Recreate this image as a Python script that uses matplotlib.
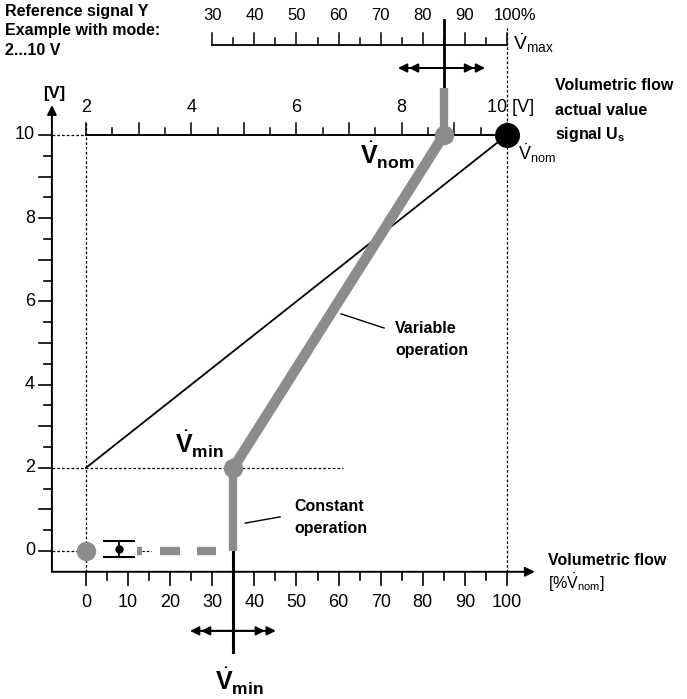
import numpy as np
import matplotlib
matplotlib.use('Agg')
import matplotlib.pyplot as plt

plt.rcParams['font.family'] = ['Liberation Sans', 'DejaVu Sans']
plt.rcParams['mathtext.fontset'] = 'custom'
plt.rcParams['mathtext.rm'] = 'Liberation Sans'
plt.rcParams['mathtext.bf'] = 'Liberation Sans:bold'
plt.rcParams['mathtext.it'] = 'Liberation Sans:italic'

# ---------------- data ----------------
flow_tick_values = [0, 5, 10, 15, 20, 25, 30, 35, 40, 45, 50, 55, 60, 65, 70, 75, 80, 85, 90, 95, 100]
flow_tick_labels = ['0', '10', '20', '30', '40', '50', '60', '70', '80', '90', '100']
volt_tick_values = [0, 0.5, 1, 1.5, 2, 2.5, 3, 3.5, 4, 4.5, 5, 5.5, 6, 6.5, 7, 7.5, 8, 8.5, 9, 9.5, 10]
volt_tick_labels = ['0', '2', '4', '6', '8', '10']
ref_volt_values = [2, 2.5, 3, 3.5, 4, 4.5, 5, 5.5, 6, 6.5, 7, 7.5, 8, 8.5, 9, 9.5, 10]
ref_volt_labels = ['2', '4', '6', '8']
vmax_pct_values = [30, 35, 40, 45, 50, 55, 60, 65, 70, 75, 80, 85, 90, 95, 100]
vmax_pct_labels = ['30', '40', '50', '60', '70', '80', '90']

signal_min, signal_max = 2, 10          # V
vmin_flow, vnom_flow = 35, 85           # % of V_nom
variable_flow = [35, 85]
variable_signal = [2, 10]
actual_flow = [0, 100]
actual_signal = [2, 10]
constant_flow = [35, 35]
constant_signal = [2, 0]
const_dash_start = [12.1, 17.6, 26.4]
const_dash_end = [13.3, 22.3, 30.9]
hyst_flow, hyst_signal, hyst_err = 7.8, 0.05, 0.2

GRAY = '#8c8c8c'
DOT = (0, (2.2, 1.6))

# ---------------- figure ----------------
fig = plt.figure(figsize=(6.87, 6.99), dpi=100)
ax = fig.add_axes([0, 0, 1, 1])
ax.set_xlim(-20.43, 142.76)
ax.set_ylim(-3.558, 13.245)
ax.axis('off')

PX = 1 / 4.21    # % per pixel
PY = 1 / 41.6    # V per pixel
x_axis = -8.1
y_axis = -0.5

# main axes with arrows
ax.annotate('', xy=(x_axis, 10.72), xytext=(x_axis, y_axis),
            arrowprops=dict(arrowstyle='-|>', color='black', lw=1.4,
                            mutation_scale=14, shrinkA=0, shrinkB=0))
ax.annotate('', xy=(106.6, y_axis), xytext=(x_axis, y_axis),
            arrowprops=dict(arrowstyle='-|>', color='black', lw=1.4,
                            mutation_scale=14, shrinkA=0, shrinkB=0))

# y ticks
for v in volt_tick_values:
    L = (13 if float(v).is_integer() else 8) * PX
    ax.plot([x_axis - L, x_axis], [v, v], color='black', lw=1.2)
for lab in volt_tick_labels:
    ax.text(x_axis - 4.0, float(lab), lab, ha='right', va='center', fontsize=13)
ax.text(x_axis + 0.6, 11.0, '[V]', ha='center', va='center', fontsize=12, fontweight='bold')

# x ticks
for p in flow_tick_values:
    L = (13 if p % 10 == 0 else 8) * PY
    ax.plot([p, p], [y_axis, y_axis - L], color='black', lw=1.2)
for lab in flow_tick_labels:
    ax.text(float(lab), -1.23, lab, ha='center', va='center', fontsize=13)

# reference signal scale (top, at 10 V)
ax.plot([actual_flow[0], actual_flow[1]], [signal_max, signal_max], color='black', lw=1.4, zorder=2)
ax.plot([x_axis, 0], [signal_max, signal_max], color='black', lw=0.9, ls=DOT)
for v in ref_volt_values:
    p = (v - signal_min) / (signal_max - signal_min) * 100
    L = (12 if float(v).is_integer() else 7) * PY
    ax.plot([p, p], [signal_max, signal_max + L], color='black', lw=1.1)
for lab in ref_volt_labels:
    p = (float(lab) - signal_min) / (signal_max - signal_min) * 100
    ax.text(p, 10.65, lab, ha='center', va='center', fontsize=13)
ax.text(95.2, 10.65, '10 [V]', ha='left', va='center', fontsize=13)

# Vmax percent scale (top)
y_top = 12.16
ax.plot([vmax_pct_values[0], vmax_pct_values[-1]], [y_top, y_top], color='black', lw=1.3)
for p in vmax_pct_values:
    L = (12 if p % 10 == 0 else 7) * PY
    ax.plot([p, p], [y_top, y_top + L], color='black', lw=1.1)
for lab in vmax_pct_labels:
    ax.text(float(lab), 12.88, lab, ha='center', va='center', fontsize=12)
ax.text(96.8, 12.88, '100%', ha='left', va='center', fontsize=12)

# guide lines
ax.plot([0, 0], [y_axis, 10.3], color='black', lw=0.9, ls=DOT)
ax.plot([100, 100], [y_axis, 12.6], color='black', lw=0.9, ls=DOT)
ax.plot([x_axis, 61], [signal_min, signal_min], color='black', lw=0.9, ls=DOT)
ax.plot([x_axis, 0], [0, 0], color='black', lw=0.9, ls=DOT)
ax.plot([13.3, 15.5], [0, 0], color='black', lw=0.8, ls=DOT)

# actual value characteristic
ax.plot(actual_flow, actual_signal, color='black', lw=1.3, zorder=3)

# variable operation (thick gray)
ax.plot(variable_flow, variable_signal, color=GRAY, lw=7.5, solid_capstyle='butt', zorder=4)
ax.plot(constant_flow, constant_signal, color=GRAY, lw=6, solid_capstyle='butt', zorder=4)
ax.plot([vnom_flow, vnom_flow], [signal_max, 11.13], color=GRAY, lw=6, solid_capstyle='butt', zorder=4)

# setpoint adjustment lines
ax.plot([vnom_flow, vnom_flow], [11.13, 12.76], color='black', lw=2.0, zorder=3)
ax.plot([vmin_flow, vmin_flow], [-2.43, 0], color='black', lw=2.2, zorder=3)

# double arrows
for (x0, x1, y) in [(74.1, 94.8, 11.61), (24.7, 45.1, -1.92)]:
    ax.annotate('', xy=(x1, y), xytext=(x0, y),
                arrowprops=dict(arrowstyle='<|-|>', color='black', lw=1.4,
                                mutation_scale=13, shrinkA=0, shrinkB=0))
    ax.annotate('', xy=(x1 - 2.6, y), xytext=(x0 + 2.6, y),
                arrowprops=dict(arrowstyle='<|-|>', color='black', lw=1.4,
                                mutation_scale=13, shrinkA=0, shrinkB=0))

# constant operation dashes at 0 V
for s, e in zip(const_dash_start, const_dash_end):
    ax.plot([s, e], [0, 0], color=GRAY, lw=6, solid_capstyle='butt', zorder=4)
ax.errorbar([hyst_flow], [hyst_signal], yerr=[hyst_err], fmt='o', ms=5, color='black',
            capsize=11.5, elinewidth=1.3, capthick=1.5, zorder=5)

# points
ax.plot([0], [0], 'o', ms=13, color=GRAY, zorder=5)
ax.plot([vmin_flow], [signal_min], 'o', ms=13, color=GRAY, zorder=5)
ax.plot([vnom_flow], [signal_max], 'o', ms=13, color=GRAY, zorder=5)
ax.plot([100], [signal_max], 'o', ms=17, color='black', zorder=6)

# texts
ax.text(-19.2, 12.96, 'Reference signal Y', ha='left', va='center', fontsize=11.5, fontweight='bold')
ax.text(-19.2, 12.50, 'Example with mode:', ha='left', va='center', fontsize=11.5, fontweight='bold')
ax.text(-19.2, 12.04, '2...10 V', ha='left', va='center', fontsize=11.5, fontweight='bold')

ax.text(101.4, 12.2, r'$\dot{\mathrm{V}}_{\mathrm{max}}$', ha='left', va='center', fontsize=14)
ax.text(111.4, 11.2, 'Volumetric flow', ha='left', va='center', fontsize=11.5, fontweight='bold')
ax.text(111.4, 10.6, 'actual value', ha='left', va='center', fontsize=11.5, fontweight='bold')
ax.text(111.4, 10.0, r'signal U$_\mathbf{s}$', ha='left', va='center', fontsize=11.5, fontweight='bold')
ax.text(102.6, 9.57, r'$\dot{\mathrm{V}}_{\mathrm{nom}}$', ha='left', va='center', fontsize=13)

ax.text(65.1, 9.5, r'$\dot{\mathbf{V}}_{\mathbf{nom}}$', ha='left', va='center', fontsize=18)
ax.text(21.1, 2.55, r'$\dot{\mathbf{V}}_{\mathbf{min}}$', ha='left', va='center', fontsize=18)
ax.text(vmin_flow + 1.4, -3.13, r'$\dot{\mathbf{V}}_{\mathbf{min}}$', ha='center', va='center', fontsize=18)

ax.text(73.4, 5.36, 'Variable', ha='left', va='center', fontsize=11.5, fontweight='bold')
ax.text(73.4, 4.83, 'operation', ha='left', va='center', fontsize=11.5, fontweight='bold')
ax.plot([60.6, 70.8], [5.70, 5.36], color='black', lw=1.0)

ax.text(49.6, 1.06, 'Constant', ha='left', va='center', fontsize=11.5, fontweight='bold')
ax.text(49.6, 0.55, 'operation', ha='left', va='center', fontsize=11.5, fontweight='bold')
ax.plot([37.8, 46.1], [0.67, 0.82], color='black', lw=1.0)

ax.text(109.8, -0.22, 'Volumetric flow', ha='left', va='center', fontsize=11.5, fontweight='bold')
ax.text(109.8, -0.78, r'[%$\dot{\mathrm{V}}_{\mathrm{nom}}$]', ha='left', va='center', fontsize=11.5)

fig.savefig('out.png', dpi=100)
